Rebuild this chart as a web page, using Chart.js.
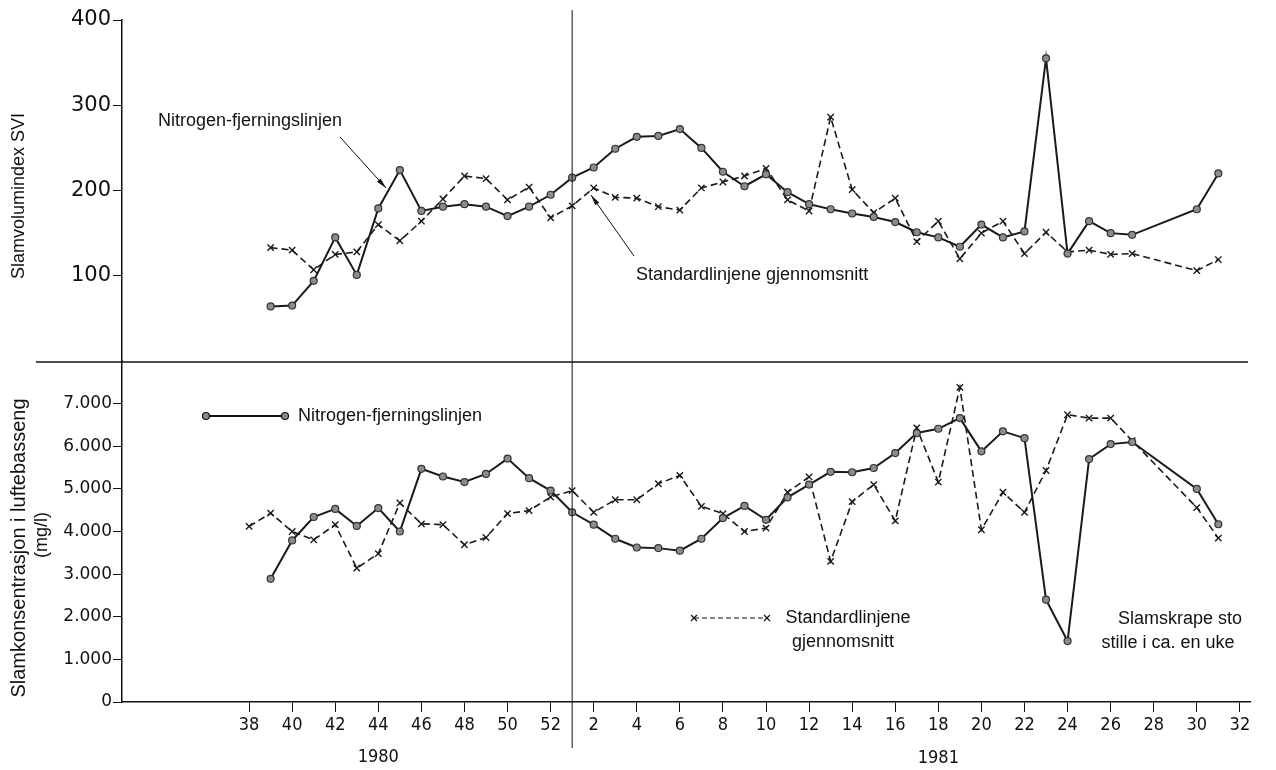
<!DOCTYPE html>
<html>

<head>
    <title>Slamvolumindex og slamkonsentrasjon</title>
    <script src="https://cdn.jsdelivr.net/npm/chart.js"></script>
    <style>
        html,
        body {
            margin: 0;
            padding: 0;
            background: #fff;
        }

        #wrap {
            width: 1276px;
            height: 770px;
        }
    </style>
</head>

<body>
    <div id="wrap">
        <canvas id="myChart" width="1276" height="770"></canvas>
    </div>

    <script>
        // Weeks on the x axis (1980: 38-52, 1981: 1-31)
        const weeks1980 = [38, 39, 40, 41, 42, 43, 44, 45, 46, 47, 48, 49, 50, 51, 52];
        const weeks1981 = [1, 2, 3, 4, 5, 6, 7, 8, 9, 10, 11, 12, 13, 14, 15, 16, 17, 18, 19, 20, 21, 22, 23, 24, 25, 26, 27, 30, 31];

        // Slamvolumindex SVI
        const sviNitrogen = [null, 64, 65, 94, 145, 101, 179, 224, 176, 181, 184, 181, 170, 181, 195,
            215, 227, 249, 263, 264, 272, 250, 222, 205, 219, 198, 184, 178, 173, 169, 163, 151, 145, 134, 160, 145, 152, 355, 126, 164, 150, 148, 178, 220];
        const sviStandard = [null, 133, 130, 107, 125, 128, 160, 141, 164, 190, 217, 214, 189, 204, 168,
            182, 203, 192, 191, 181, 177, 203, 210, 217, 226, 189, 176, 286, 201, 174, 191, 140, 164, 120, 150, 164, 126, 151, 128, 130, 125, 126, 106, 119];

        // Slamkonsentrasjon i luftebasseng (mg/l)
        const mlsNitrogen = [null, 2890, 3790, 4340, 4530, 4130, 4550, 4000, 5470, 5290, 5160, 5350, 5710, 5250, 4960,
            4450, 4160, 3830, 3625, 3610, 3550, 3830, 4315, 4600, 4275, 4800, 5100, 5400, 5390, 5490, 5840, 6310, 6410, 6660, 5880, 6350, 6190, 2400, 1430, 5700, 6050, 6100, 5000, 4170];
        const mlsStandard = [4120, 4430, 4000, 3805, 4160, 3140, 3480, 4670, 4180, 4160, 3690, 3860, 4420, 4490, 4810,
            4960, 4450, 4745, 4745, 5120, 5316, 4590, 4420, 4000, 4080, 4920, 5280, 3300, 4700, 5100, 4250, 6430, 5160, 7380, 4040, 4920, 4450, 5430, 6740, 6660, 6660, 6130, 4560, 3845];

        const xTickWeeks = [38, 40, 42, 44, 46, 48, 50, 52, 2, 4, 6, 8, 10, 12, 14, 16, 18, 20, 22, 24, 26, 28, 30, 32];
        const sviTicks = [100, 200, 300, 400];
        const mlsTicks = [0, 1000, 2000, 3000, 4000, 5000, 6000, 7000];

        // position on the x axis: week 38 of 1980 = 0, week 1 of 1981 = 15
        function pos1980(w) { return w - 38; }
        function pos1981(w) { return w + 14; }
        const xPos = weeks1980.map(pos1980).concat(weeks1981.map(pos1981));
        const xTickPos = xTickWeeks.map(w => w >= 38 ? pos1980(w) : pos1981(w));

        function points(values) {
            return values.map((v, i) => ({ x: xPos[i], y: v }));
        }

        const narrow = '"Liberation Sans Narrow", "DejaVu Sans Condensed", sans-serif';
        const sans = '"Liberation Sans", Arial, sans-serif';

        const nitrogenStyle = {
            borderColor: '#1a1a1a',
            borderWidth: 2,
            pointStyle: 'circle',
            pointRadius: 3.5,
            pointBackgroundColor: '#8c8c8c',
            pointBorderColor: '#333',
            pointBorderWidth: 1.2,
            tension: 0,
            spanGaps: true
        };
        const standardStyle = {
            borderColor: '#1a1a1a',
            borderWidth: 1.6,
            borderDash: [7, 4],
            pointStyle: 'crossRot',
            pointRadius: 4.5,
            pointBorderColor: '#1a1a1a',
            pointBorderWidth: 1.4,
            tension: 0,
            spanGaps: true
        };

        function arrow(c, x1, y1, x2, y2) {
            c.beginPath();
            c.moveTo(x1, y1);
            c.lineTo(x2, y2);
            c.lineWidth = 1;
            c.stroke();
            const a = Math.atan2(y2 - y1, x2 - x1);
            c.beginPath();
            c.moveTo(x2, y2);
            c.lineTo(x2 - 11 * Math.cos(a - 0.22), y2 - 11 * Math.sin(a - 0.22));
            c.lineTo(x2 - 11 * Math.cos(a + 0.22), y2 - 11 * Math.sin(a + 0.22));
            c.closePath();
            c.fill();
        }

        // extra lines, labels and legend samples
        const decorations = {
            id: 'decorations',
            afterDraw(chart) {
                const c = chart.ctx;
                const xs = chart.scales.x;
                const top = chart.scales.ySvi;
                c.save();
                c.strokeStyle = '#111';
                c.fillStyle = '#111';

                // separator between the two panels
                c.lineWidth = 1.3;
                c.beginPath();
                c.moveTo(36, top.bottom + 1);
                c.lineTo(1248, top.bottom + 1);
                c.stroke();

                // year change
                const xYear = xs.getPixelForValue(pos1981(1));
                c.lineWidth = 1;
                c.beginPath();
                c.moveTo(xYear, 10);
                c.lineTo(xYear, 748);
                c.stroke();

                // axis titles
                c.textAlign = 'center';
                c.textBaseline = 'middle';
                c.font = '18px ' + sans;
                c.save();
                c.translate(19, 196);
                c.rotate(-Math.PI / 2);
                c.fillText('Slamvolumindex SVI', 0, 0);
                c.restore();
                c.font = '20px ' + sans;
                c.save();
                c.translate(19, 548);
                c.rotate(-Math.PI / 2);
                c.fillText('Slamkonsentrasjon i luftebasseng', 0, 0);
                c.restore();
                c.font = '18px ' + sans;
                c.save();
                c.translate(42, 535);
                c.rotate(-Math.PI / 2);
                c.fillText('(mg/l)', 0, 0);
                c.restore();

                // years
                c.font = '18px ' + narrow;
                c.fillText('1980', xs.getPixelForValue(pos1980(44)), 757);
                c.fillText('1981', xs.getPixelForValue(pos1981(18)), 758);

                // top panel labels with arrows
                c.font = '18px ' + sans;
                c.textAlign = 'left';
                c.fillText('Nitrogen-fjerningslinjen', 158, 121);
                arrow(c, 340, 137, 386, 188);
                c.fillText('Standardlinjene gjennomsnitt', 636, 275);
                arrow(c, 634, 256, 591, 195);

                // bottom panel legend samples
                c.fillText('Nitrogen-fjerningslinjen', 298, 416);
                c.lineWidth = 2;
                c.beginPath();
                c.moveTo(206, 416);
                c.lineTo(285, 416);
                c.stroke();
                c.fillStyle = '#8c8c8c';
                c.lineWidth = 1.2;
                [206, 285].forEach(x => {
                    c.beginPath();
                    c.arc(x, 416, 3.5, 0, Math.PI * 2);
                    c.fill();
                    c.stroke();
                });
                c.fillStyle = '#111';

                c.lineWidth = 1.2;
                c.setLineDash([5, 3]);
                c.beginPath();
                c.moveTo(694, 618);
                c.lineTo(767, 618);
                c.stroke();
                c.setLineDash([]);
                [694, 767].forEach(x => {
                    c.beginPath();
                    c.moveTo(x - 3, 615);
                    c.lineTo(x + 3, 621);
                    c.moveTo(x - 3, 621);
                    c.lineTo(x + 3, 615);
                    c.stroke();
                });
                c.textAlign = 'center';
                c.fillText('Standardlinjene', 848, 618);
                c.fillText('gjennomsnitt', 843, 642);
                c.fillText('Slamskrape sto', 1180, 619);
                c.fillText('stille i ca. en uke', 1168, 643);
                c.restore();
            }
        };

        const ctx = document.getElementById('myChart').getContext('2d');
        const myChart = new Chart(ctx, {
            type: 'line',
            data: {
                datasets: [
                    Object.assign({ label: 'Nitrogen-fjerningslinjen (SVI)', data: points(sviNitrogen), yAxisID: 'ySvi' }, nitrogenStyle),
                    Object.assign({ label: 'Standardlinjene gjennomsnitt (SVI)', data: points(sviStandard), yAxisID: 'ySvi' }, standardStyle),
                    Object.assign({ label: 'Nitrogen-fjerningslinjen (mg/l)', data: points(mlsNitrogen), yAxisID: 'yMls' }, nitrogenStyle),
                    Object.assign({ label: 'Standardlinjene gjennomsnitt (mg/l)', data: points(mlsStandard), yAxisID: 'yMls' }, standardStyle)
                ]
            },
            options: {
                responsive: false,
                animation: false,
                layout: { padding: { top: 20, right: 26, left: 0, bottom: 0 } },
                plugins: {
                    legend: { display: false },
                    tooltip: { enabled: false }
                },
                scales: {
                    x: {
                        type: 'linear',
                        min: -5.9,
                        max: 46.47,
                        grid: { drawOnChartArea: false, tickLength: 10, color: '#111' },
                        border: { color: '#111', width: 1.5 },
                        ticks: {
                            autoSkip: false,
                            maxRotation: 0,
                            color: '#111',
                            padding: 3,
                            font: { family: narrow, size: 18 },
                            callback: v => v <= 14 ? 38 + v : v - 14
                        },
                        afterBuildTicks: s => { s.ticks = xTickPos.map(v => ({ value: v })); },
                        afterFit: s => { s.height = 68; }
                    },
                    yMls: {
                        type: 'linear',
                        position: 'left',
                        stack: 'panels',
                        stackWeight: 1,
                        min: 0,
                        max: 8000,
                        grid: {
                            drawOnChartArea: false,
                            tickLength: 9,
                            tickColor: c => c.tick && c.tick.value === 8000 ? 'rgba(0,0,0,0)' : '#111'
                        },
                        border: { color: '#111', width: 1.5 },
                        ticks: {
                            color: '#111',
                            padding: 1,
                            font: { family: '"DejaVu Sans", sans-serif', size: 17 },
                            callback: v => v === 0 ? '0' : (mlsTicks.includes(v) ? (v / 1000) + '.000' : '')
                        },
                        afterBuildTicks: s => { s.ticks = mlsTicks.concat([8000]).map(v => ({ value: v })); },
                        afterFit: s => { s.width = 122; }
                    },
                    ySvi: {
                        type: 'linear',
                        position: 'left',
                        stack: 'panels',
                        stackWeight: 1,
                        min: 0,
                        max: 400,
                        grid: {
                            drawOnChartArea: false,
                            tickLength: 9,
                            tickColor: c => c.tick && c.tick.value === 0 ? 'rgba(0,0,0,0)' : '#111'
                        },
                        border: { color: '#111', width: 1.5 },
                        ticks: {
                            color: '#111',
                            padding: 2,
                            font: { family: '"DejaVu Sans", sans-serif', size: 21 },
                            callback: v => sviTicks.includes(v) ? String(v) : ''
                        },
                        afterBuildTicks: s => { s.ticks = [0].concat(sviTicks).map(v => ({ value: v })); },
                        afterFit: s => { s.width = 122; }
                    }
                }
            },
            plugins: [decorations]
        });
    </script>
</body>

</html>
